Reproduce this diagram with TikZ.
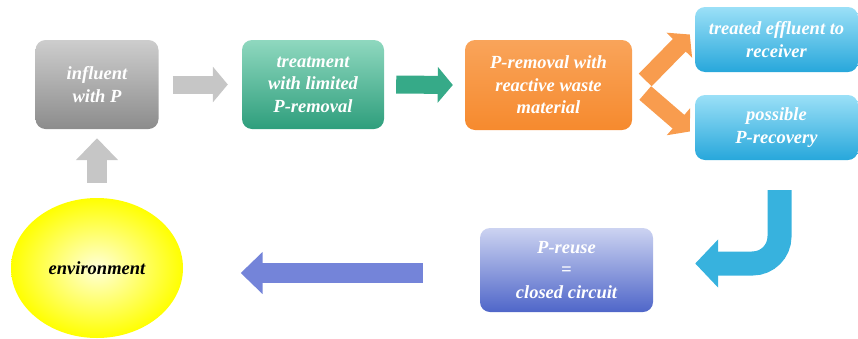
\documentclass[tikz,border=0pt]{standalone}
\usepackage{fontspec}
\setmainfont{Liberation Serif}
\usetikzlibrary{shapes.geometric, arrows.meta}

\definecolor{grayhi}{HTML}{CDCDCD}
\definecolor{graylo}{HTML}{8C8C8C}
\definecolor{greenhi}{HTML}{8FD8BF}
\definecolor{greenlo}{HTML}{2E9E7C}
\definecolor{orangehi}{HTML}{F9A45A}
\definecolor{orangelo}{HTML}{F68A2E}
\definecolor{bluehi}{HTML}{9BE0F7}
\definecolor{bluelo}{HTML}{27A7DB}
\definecolor{purplehi}{HTML}{CCD3F1}
\definecolor{purplelo}{HTML}{4F66C9}
\definecolor{arrgray}{HTML}{C6C6C6}
\definecolor{arrgreen}{HTML}{36AA88}
\definecolor{arrorange}{HTML}{F89C4E}
\definecolor{arrblue}{HTML}{37B2DE}
\definecolor{arrpurple}{HTML}{7484D9}

\begin{document}
\begin{tikzpicture}[x=1pt, y=-1pt,
    box/.style={rounded corners=10pt, align=center, text=white, inner sep=2pt,
        font=\fontsize{18.5}{22.5}\selectfont\bfseries\itshape},
    fat/.style={line width=18pt, -{Triangle[length=15pt, width=35pt]}},
    fatter/.style={line width=20pt, -{Triangle[length=22pt, width=41pt]}}]
    \useasboundingbox (0,0) rectangle (858,338);

    % Top row of boxes
    \node (infl) [box, top color=grayhi, bottom color=graylo, minimum width=123pt, minimum height=89pt] at (97,84.5) {influent\\with P};
    \node (treat) [box, top color=greenhi, bottom color=greenlo, minimum width=142pt, minimum height=89pt] at (313,84.5) {treatment\\with limited\\P-removal};
    \node (react) [box, top color=orangehi, bottom color=orangelo, minimum width=167pt, minimum height=90pt] at (548.5,85) {P-removal with\\reactive waste\\material};
    \node (effl) [box, top color=bluehi, bottom color=bluelo, minimum width=163pt, minimum height=65pt] at (776.5,39.5) {treated effluent to\\receiver};
    \node (recov) [box, top color=bluehi, bottom color=bluelo, minimum width=163pt, minimum height=65pt] at (776.5,127.5) {possible\\P-recovery};

    % Bottom row
    \node (reuse) [box, top color=purplehi, bottom color=purplelo, minimum width=173pt, minimum height=84pt] at (566.5,270) {P-reuse\\=\\closed circuit};
    \node (env) [ellipse, inner color=white!85!yellow, outer color=yellow, minimum width=172pt, minimum height=140pt,
        font=\fontsize{18.5}{22.5}\selectfont\bfseries\itshape] at (97,268) {environment};

    % Block arrows
    \draw[fat, arrgray] ([xshift=14pt]infl.east) -- ([xshift=-14pt]treat.west);
    \draw[fat, arrgreen] ([xshift=12pt]treat.east) -- ([xshift=-12pt]react.west);
    \draw[fat, arrorange] ([shift={(13,-5)}]react.east) -- ([shift={(-5,-5)}]effl.west);
    \draw[fat, arrorange] ([shift={(13,8)}]react.east) -- ([shift={(-5,4)}]recov.west);
    \draw[line width=24pt, arrblue, rounded corners=27pt, -{Triangle[length=23pt, width=47pt]}]
        ([shift={(3,30)}]recov.south) |- ([shift={(42,-6.5)}]reuse.east);
    \draw[fatter, arrpurple] ([shift={(-57,3)}]reuse.west) -- ([shift={(57.5,5)}]env.east);
    \draw[fatter, arrgray] ([yshift=15pt]env.north) -- ([yshift=-9pt]infl.south);
\end{tikzpicture}
\end{document}
